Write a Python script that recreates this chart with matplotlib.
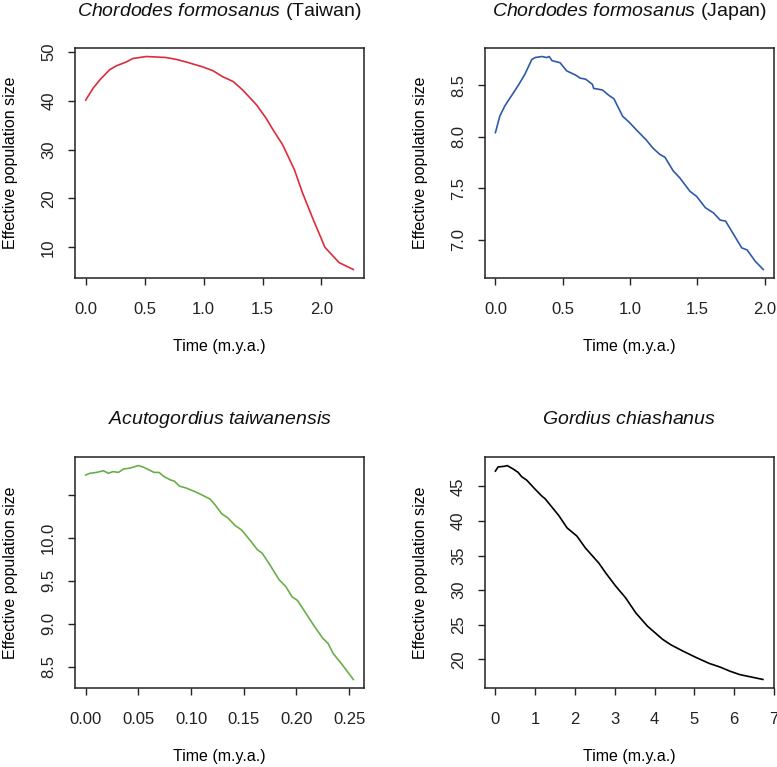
import numpy as np
import matplotlib.pyplot as plt

plt.rcParams['font.family'] = ['Liberation Sans', 'DejaVu Sans']
plt.rcParams['mathtext.fontset'] = 'custom'
plt.rcParams['mathtext.it'] = 'Liberation Sans:italic'
plt.rcParams['mathtext.rm'] = 'Liberation Sans'

# Chordodes formosanus (Taiwan)
tw_t = [0.0, 0.062, 0.119, 0.203, 0.26, 0.345, 0.40, 0.514, 0.68, 0.77, 0.85, 0.99,
        1.08, 1.16, 1.25, 1.33, 1.45, 1.53, 1.59, 1.67, 1.77, 1.84, 1.93, 2.03, 2.15, 2.27]
tw_ne = [40.1, 42.5, 44.2, 46.3, 47.1, 47.9, 48.6, 49.0, 48.8, 48.4, 47.9, 46.9,
         46.1, 44.9, 43.9, 42.2, 39.1, 36.4, 34.0, 31.0, 25.9, 21.1, 15.7, 10.0, 6.9, 5.5]

# Chordodes formosanus (Japan)
jp_t = [0.0, 0.0325, 0.07, 0.12, 0.17, 0.22, 0.27, 0.295, 0.345, 0.38, 0.40, 0.42,
        0.48, 0.53, 0.595, 0.63, 0.67, 0.72, 0.73, 0.795, 0.845, 0.88, 0.945, 0.995,
        1.045, 1.12, 1.17, 1.22, 1.26, 1.32, 1.37, 1.445, 1.495, 1.56, 1.62, 1.67,
        1.71, 1.77, 1.83, 1.87, 1.93, 1.99]
jp_ne = [8.04, 8.20, 8.30, 8.40, 8.50, 8.61, 8.75, 8.77, 8.78, 8.77, 8.78, 8.74,
         8.72, 8.64, 8.60, 8.57, 8.56, 8.51, 8.47, 8.455, 8.40, 8.37, 8.20, 8.14,
         8.07, 7.97, 7.89, 7.83, 7.80, 7.67, 7.60, 7.47, 7.42, 7.31, 7.26, 7.19,
         7.18, 7.05, 6.92, 6.90, 6.79, 6.71]

# Acutogordius taiwanensis
at_t = [0.0, 0.004, 0.0103, 0.0167, 0.0215, 0.026, 0.031, 0.036, 0.042, 0.050, 0.055,
        0.065, 0.0696, 0.0745, 0.081, 0.084, 0.089, 0.095, 0.103, 0.11, 0.118, 0.123,
        0.129, 0.135, 0.142, 0.148, 0.156, 0.163, 0.1675, 0.174, 0.1836, 0.19, 0.196,
        0.201, 0.209, 0.217, 0.225, 0.23, 0.235, 0.243, 0.254]
at_ne = [10.73, 10.75, 10.76, 10.78, 10.75, 10.77, 10.76, 10.80, 10.81, 10.84, 10.82,
         10.76, 10.76, 10.71, 10.67, 10.66, 10.60, 10.58, 10.54, 10.50, 10.45, 10.38,
         10.28, 10.23, 10.14, 10.09, 9.97, 9.86, 9.82, 9.70, 9.51, 9.43, 9.31,
         9.27, 9.12, 8.97, 8.83, 8.77, 8.65, 8.53, 8.35]

# Gordius chiashanus
gc_t = [0.0, 0.068, 0.236, 0.295, 0.447, 0.574, 0.658, 0.785, 0.996, 1.165, 1.25, 1.42,
        1.59, 1.80, 2.05, 2.26, 2.60, 2.77, 3.02, 3.27, 3.53, 3.82, 4.03, 4.20, 4.41,
        4.71, 5.05, 5.38, 5.64, 5.89, 6.14, 6.72]
gc_ne = [47.2, 47.8, 47.9, 48.0, 47.5, 47.0, 46.4, 45.9, 44.6, 43.6, 43.2, 42.0,
         40.8, 39.0, 37.8, 36.1, 33.9, 32.5, 30.6, 28.9, 26.7, 24.8, 23.75, 22.9, 22.1,
         21.2, 20.25, 19.4, 18.9, 18.3, 17.8, 17.1]

W, H = 777, 767
fig = plt.figure(figsize=(W / 100, H / 100), dpi=100)

def make_ax(x0, y0, x1, y1):
    return fig.add_axes([x0 / W, 1 - y1 / H, (x1 - x0) / W, (y1 - y0) / H])

panels = [
    (make_ax(75, 48, 364, 278), tw_t, tw_ne, '#DC2C3C',
     r'$\mathit{Chordodes\ formosanus}$ (Taiwan)',
     [0, 0.5, 1.0, 1.5, 2.0], ['0.0', '0.5', '1.0', '1.5', '2.0'],
     [10, 20, 30, 40, 50], ['10', '20', '30', '40', '50']),
    (make_ax(484.7, 48, 774, 278), jp_t, jp_ne, '#2E5AA8',
     r'$\mathit{Chordodes\ formosanus}$ (Japan)',
     [0, 0.5, 1.0, 1.5, 2.0], ['0.0', '0.5', '1.0', '1.5', '2.0'],
     [7.0, 7.5, 8.0, 8.5], ['7.0', '7.5', '8.0', '8.5']),
    (make_ax(75, 457, 364, 688), at_t, at_ne, '#6AAE4A',
     r'$\mathit{Acutogordius\ taiwanensis}$',
     [0, 0.05, 0.10, 0.15, 0.20, 0.25], ['0.00', '0.05', '0.10', '0.15', '0.20', '0.25'],
     [8.5, 9.0, 9.5, 10.0, 10.5], ['8.5', '9.0', '9.5', '10.0', '']),
    (make_ax(484.7, 457, 774, 688), gc_t, gc_ne, 'black',
     r'$\mathit{Gordius\ chiashanus}$',
     list(range(8)), [str(i) for i in range(8)],
     [20, 25, 30, 35, 40, 45], ['20', '25', '30', '35', '40', '45']),
]

for ax, t, ne, col, title, xt, xtl, yt, ytl in panels:
    ax.plot(t, ne, color=col, lw=1.2)
    xr = max(t) - min(t)
    yr = max(ne) - min(ne)
    ax.set_xlim(min(t) - 0.04 * xr, max(t) + 0.04 * xr)
    ax.set_ylim(min(ne) - 0.04 * yr, max(ne) + 0.04 * yr)
    ax.set_xticks(xt)
    ax.set_xticklabels(xtl)
    ax.set_yticks(yt)
    ax.set_yticklabels(ytl, rotation=90, va='center')
    ax.tick_params(direction='out', length=5, width=1, labelsize=12, colors='#222222')
    ax.tick_params(axis='x', pad=12)
    ax.tick_params(axis='y', pad=8.5)
    for s in ax.spines.values():
        s.set_linewidth(1.1)
        s.set_color('#222222')
    bb = ax.get_position()
    wpx, hpx = bb.width * W, bb.height * H
    ax.set_xlabel('Time (m.y.a.)', fontsize=11.5, va='center')
    ax.xaxis.set_label_coords(0.5, -69 / hpx)
    ax.set_ylabel('Effective population size', fontsize=11.5, va='center')
    ax.yaxis.set_label_coords(-64 / wpx, 0.5)
    ax.text(0.5, 1 + 32.5 / hpx, title, transform=ax.transAxes, fontsize=14,
            ha='center', va='baseline', color='#111111')

fig.savefig('out.png', dpi=100)
